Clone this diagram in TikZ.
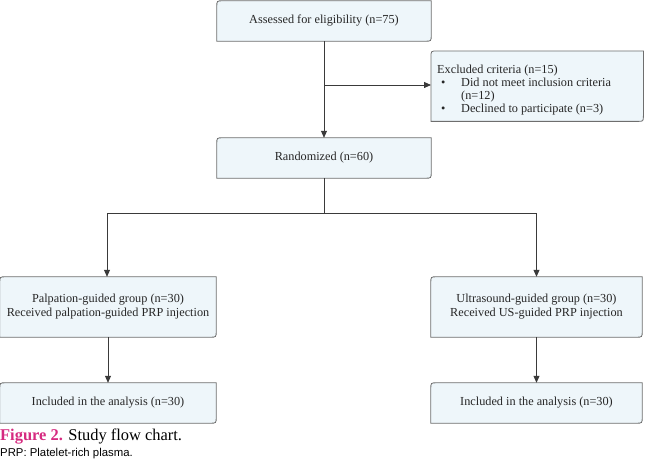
\documentclass[tikz,border=0pt]{standalone}
\usepackage{fontspec}
\setmainfont{Liberation Serif}
\newfontfamily\capsans{Liberation Sans}
\usetikzlibrary{arrows.meta}
\pgfdeclarelayer{background}
\pgfsetlayers{background,main}
\definecolor{boxfill}{HTML}{EEF6FA}
\definecolor{boxline}{HTML}{6E6E6E}
\definecolor{linecol}{HTML}{3A3A3A}
\definecolor{figmag}{HTML}{D62A80}
\tikzset{
  box/.style={inner sep=0pt, align=center, font=\fontsize{12.3}{14}\selectfont, text=black!85},
  conn/.style={draw=linecol, line width=0.8bp, -{Triangle[length=7bp,width=6bp]}},
  plain/.style={draw=linecol, line width=0.8bp},
  shapeln/.style={draw=boxline, fill=boxfill, line width=0.8bp}
}
\newcommand\flowshape[1]{%
  \begin{pgfonlayer}{background}
  \path[shapeln] (#1.north east) -- ([xshift=6bp]#1.north west)
    .. controls (#1.north west) .. ([yshift=-6bp]#1.north west)
    -- (#1.south west) -- ([xshift=-6bp]#1.south east)
    .. controls (#1.south east) .. ([yshift=6bp]#1.south east) -- cycle;
  \end{pgfonlayer}}
\newcommand\blt{\hspace*{6bp}\makebox[20bp][l]{\textbullet}}
\begin{document}
\begin{tikzpicture}[x=1bp,y=-1bp]
\useasboundingbox (0,0) rectangle (647,463);
\node[box, minimum width=214bp, minimum height=40bp] (A) at (324,21) {Assessed for eligibility (n=75)};
\node[box, minimum width=212bp, minimum height=70bp, anchor=north west] (E) at (431,51) {};
\node[box, align=left, anchor=north west, font=\fontsize{12.3}{13.3}\selectfont] (Et) at ([xshift=4bp,yshift=-13.5bp]E.north west) {%
\hspace*{2bp}Excluded criteria (n=15)\\
\blt Did not meet inclusion criteria\\
\hspace*{26bp}(n=12)\\
\blt Declined to participate (n=3)};
\node[box, minimum width=214bp, minimum height=40bp] (R) at (324,158) {Randomized (n=60)};
\node[box, minimum width=216bp, minimum height=60bp] (P) at (108,307) {Palpation-guided group (n=30)\\Received palpation-guided PRP injection};
\node[box, minimum width=211bp, minimum height=60bp] (U) at (536.5,307) {Ultrasound-guided group (n=30)\\Received US-guided PRP injection};
\node[box, minimum width=216bp, minimum height=40bp] (IP) at (108,403) {Included in the analysis (n=30)};
\node[box, minimum width=211bp, minimum height=40bp] (IU) at (536.5,403) {Included in the analysis (n=30)};
\flowshape{A}\flowshape{E}\flowshape{R}\flowshape{P}\flowshape{U}\flowshape{IP}\flowshape{IU}
\coordinate (br) at (324,85);
\coordinate (sp) at (324,213);
\draw[conn] (A.south) -- (R.north);
\draw[conn] (br) -- (br -| E.west);
\draw[plain] (R.south) -- (sp);
\draw[conn] (sp) -| ([xshift=-1bp]P.north);
\draw[conn] (sp) -| (U.north);
\draw[conn] (P.south) -- (IP.north);
\draw[conn] (U.south) -- (IU.north);
\node[anchor=west, inner sep=0pt, font=\fontsize{16.5}{18}\selectfont] (cap) at (0,437) {\textcolor{figmag}{\bfseries Figure 2.} Study flow chart.};
\node[anchor=west, inner sep=0pt, font=\capsans\fontsize{11.4}{12}\selectfont] (note) at (0,454) {PRP: Platelet-rich plasma.};
\end{tikzpicture}
\end{document}
